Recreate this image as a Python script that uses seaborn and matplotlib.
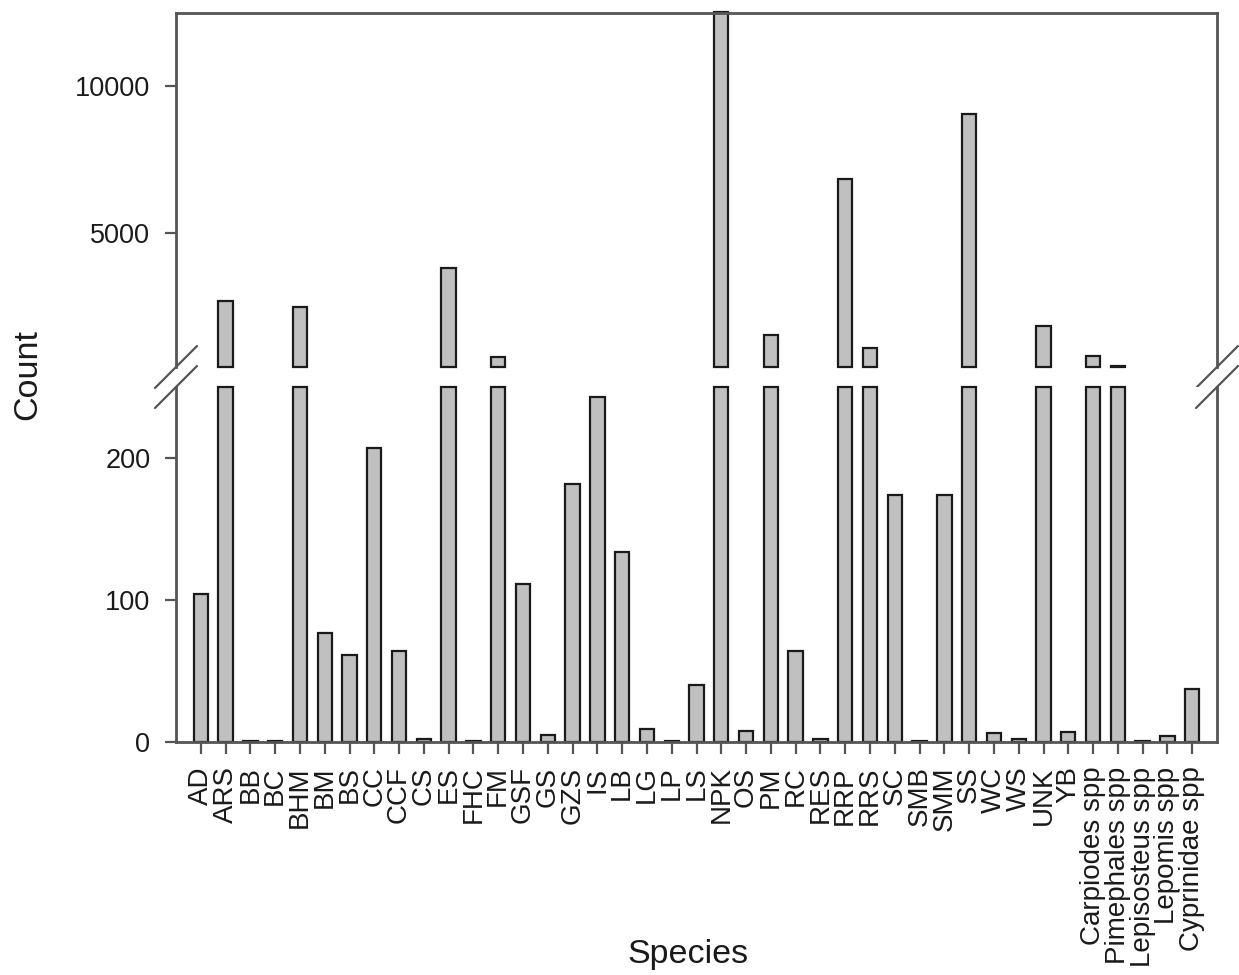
import matplotlib
matplotlib.use("Agg")
import matplotlib.pyplot as plt
import seaborn as sns
import pandas as pd
import numpy as np

species = ["AD", "ARS", "BB", "BC", "BHM", "BM", "BS", "CC", "CCF", "CS", "ES", "FHC",
           "FM", "GSF", "GS", "GZS", "IS", "LB", "LG", "LP", "LS", "NPK", "OS", "PM",
           "RC", "RES", "RRP", "RRS", "SC", "SMB", "SMM", "SS", "WC", "WS", "UNK", "YB",
           "Carpiodes spp", "Pimephales spp", "Lepisosteus spp", "Lepomis spp",
           "Cyprinidae spp"]
counts = [104, 2700, 1, 1, 2510, 77, 61, 207, 64, 2, 3830, 1,
          810, 111, 5, 182, 243, 134, 9, 1, 40, 12500, 8, 1570,
          64, 2, 6840, 1130, 174, 1, 174, 9050, 6, 2, 1850, 7,
          845, 500, 1, 4, 37]

lower_ticks = [0, 100, 200]
upper_ticks = [5000, 10000]
lower_lim = (0, 250)
upper_lim = (470, 12470)

df = pd.DataFrame({"Species": species, "Count": counts})
df_low = pd.DataFrame({"Species": species,
                       "Count": np.minimum(counts, lower_lim[1])})

sns.set_theme(style="white")
plt.rcParams["font.family"] = ["Liberation Sans", "DejaVu Sans"]

fig = plt.figure(figsize=(12.39, 9.75), dpi=100)
left, width = 176 / 1239, (1217 - 176) / 1239
ax_top = fig.add_axes([left, 1 - 367 / 975, width, 354 / 975])
ax_bot = fig.add_axes([left, 1 - 742 / 975, width, 355 / 975])

fill = "#c0c0c0"
edge = "#1a1a1a"
spine_c = "#555555"
text_c = "#1a1a1a"

for ax, d in ((ax_top, df), (ax_bot, df_low)):
    sns.barplot(data=d, x="Species", y="Count", color=fill, edgecolor=edge,
                linewidth=1.6, width=0.58, saturation=1, ax=ax)
    ax.set_xlim(-1, len(species))
    ax.set_xlabel("")
    ax.set_ylabel("")
    for s in ax.spines.values():
        s.set_color(spine_c)
        s.set_linewidth(2.0)
    ax.tick_params(axis="y", direction="out", length=8, width=1.6, color=spine_c,
                   labelsize=19.5, labelcolor=text_c, pad=10.5, left=True)

ax_top.set_ylim(*upper_lim)
ax_top.set_yticks(upper_ticks)
ax_top.spines["bottom"].set_visible(False)
ax_top.tick_params(axis="x", bottom=False, labelbottom=False)
# upper segments of the gap bars start at the break
for p in ax_top.patches:
    top = p.get_y() + p.get_height()
    if top > upper_lim[0]:
        p.set_y(upper_lim[0])
        p.set_height(top - upper_lim[0])
        p.set_clip_on(False)

ax_bot.set_ylim(*lower_lim)
ax_bot.set_yticks(lower_ticks)
ax_bot.spines["top"].set_visible(False)
for p in ax_bot.patches:
    p.set_clip_on(False)
ax_bot.set_xticks(range(len(species)))
ax_bot.set_xticklabels(species, rotation=90, fontsize=20, color=text_c)
ax_bot.tick_params(axis="x", direction="out", length=8.6, width=1.6, color=spine_c,
                   bottom=True, pad=9)

# break marks
dx = 21 / 1041
dy_t = 21 / 354
dy_b = 21 / 355
kw = dict(color=spine_c, lw=1.6, clip_on=False)
for x in (0, 1):
    ax_top.plot([x - dx, x + dx], [-dy_t, dy_t], transform=ax_top.transAxes, **kw)
    ax_bot.plot([x - dx, x + dx], [1 - dy_b, 1 + dy_b], transform=ax_bot.transAxes, **kw)

fig.text(0.0226, (1 - 375 / 975), "Count", rotation=90, ha="center", va="center",
         fontsize=24.5, color=text_c)
fig.text(688 / 1239, 1 - 955 / 975, "Species", ha="center", va="center",
         fontsize=24.5, color=text_c)

fig.savefig("out.png", dpi=100)
